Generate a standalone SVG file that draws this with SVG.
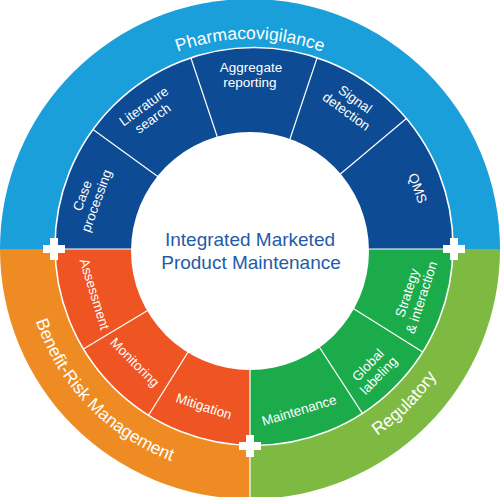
<svg xmlns="http://www.w3.org/2000/svg" width="500" height="497" viewBox="0 0 500 497">
  <style>
    text { font-family: "Liberation Sans", Arial, Helvetica, sans-serif; }
    .ring-label { font-size: 17.5px; fill: #ffffff; }
    .seg-label { font-size: 13.5px; fill: #ffffff; text-anchor: middle; }
    .title { font-size: 19px; fill: #1f5ba8; text-anchor: middle; }
    .divider { stroke: #ffffff; stroke-width: 1.2; fill: none; }
    .ring-edge { stroke: #ffffff; stroke-width: 1.6; fill: none; }
  </style>
  <defs>
    <!-- plus-shaped joint marker, centred on the origin -->
    <path id="plus" d="M-11,-4 h7 v-7 h8 v7 h7 v8 h-7 v7 h-8 v-7 h-7 Z" fill="#ffffff"/>
    <!-- baselines for the curved ring titles -->
    <path id="arc-top" d="M40,249 A210,210 0 0 1 460,249"/>
    <path id="arc-left" d="M24,249 A226,226 0 0 0 250,475"/>
    <path id="arc-right" d="M250,475 A226,226 0 0 0 476,249"/>
  </defs>

  <!-- outer ring: three domains -->
  <g id="pharmacovigilance">
    <path d="M0,249 A250,250 0 0 1 500,249 Z" fill="#1b9fdb"/>
    <text class="ring-label"><textPath href="#arc-top" startOffset="50%" text-anchor="middle">Pharmacovigilance</textPath></text>
  </g>
  <g id="benefit-risk-management">
    <path d="M250,249 L0,249 A250,250 0 0 0 250,499 Z" fill="#ee8c23"/>
    <text class="ring-label"><textPath href="#arc-left" startOffset="49%" text-anchor="middle">Benefit-Risk Management</textPath></text>
  </g>
  <g id="regulatory">
    <path d="M250,249 L250,499 A250,250 0 0 0 500,249 Z" fill="#7eba41"/>
    <text class="ring-label"><textPath href="#arc-right" startOffset="50%" text-anchor="middle">Regulatory</textPath></text>
  </g>

  <!-- inner ring: pharmacovigilance activities -->
  <g id="case-processing">
    <path d="M254,249 L55.02,249 A199,199 0 0 1 93.01,129.53 L254,246.5 Z" fill="#0d4b94"/>
    <text class="seg-label" transform="translate(89,198) rotate(-70)"><tspan x="0" y="-2.5">Case</tspan><tspan x="0" y="12.5">processing</tspan></text>
  </g>
  <g id="literature-search">
    <path d="M254,246.5 L93.01,129.53 A199,199 0 0 1 190.86,57.79 Z" fill="#0d4b94"/>
    <text class="seg-label" transform="translate(148,112) rotate(-36)"><tspan x="0" y="-2.5">Literature</tspan><tspan x="0" y="12.5">search</tspan></text>
  </g>
  <g id="aggregate-reporting">
    <path d="M254,246.5 L190.86,57.79 A199,199 0 0 1 317.14,57.79 Z" fill="#0d4b94"/>
    <text class="seg-label"><tspan x="251" y="72">Aggregate</tspan><tspan x="250" y="86.5">reporting</tspan></text>
  </g>
  <g id="signal-detection">
    <path d="M254,246.5 L317.14,57.79 A199,199 0 0 1 406.43,118.58 Z" fill="#0d4b94"/>
    <text class="seg-label" transform="translate(351,105) rotate(36)"><tspan x="0" y="-2.5">Signal</tspan><tspan x="0" y="12.5">detection</tspan></text>
  </g>
  <g id="qms">
    <path d="M254,246.5 L406.43,118.58 A199,199 0 0 1 452.98,249 L254,249 Z" fill="#0d4b94"/>
    <text class="seg-label" transform="translate(418,188) rotate(70)" y="5">QMS</text>
  </g>

  <!-- inner ring: benefit-risk activities -->
  <g id="assessment">
    <path d="M250,249 L55.02,249 A199,199 0 0 0 83.42,348.99 L254,246.5 Z" fill="#ef5423"/>
    <text class="seg-label" transform="translate(95,294) rotate(73)" y="5">Assessment</text>
  </g>
  <g id="monitoring">
    <path d="M254,246.5 L83.42,348.99 A199,199 0 0 0 148.55,415.25 Z" fill="#ef5423"/>
    <text class="seg-label" transform="translate(135,362) rotate(45)" y="5">Monitoring</text>
  </g>
  <g id="mitigation">
    <path d="M254,246.5 L148.55,415.25 A199,199 0 0 0 250,445.46 L250,249 Z" fill="#ef5423"/>
    <text class="seg-label" transform="translate(204,406) rotate(18)" y="5">Mitigation</text>
  </g>

  <!-- inner ring: regulatory activities -->
  <g id="maintenance">
    <path d="M250,249 L250,445.46 A199,199 0 0 0 362.38,413.4 L254,246.5 Z" fill="#1bab4b"/>
    <text class="seg-label" transform="translate(299,410) rotate(-17)" y="5">Maintenance</text>
  </g>
  <g id="global-labeling">
    <path d="M254,246.5 L362.38,413.4 A199,199 0 0 0 422.75,351.95 Z" fill="#1bab4b"/>
    <text class="seg-label" transform="translate(373,370) rotate(-46)"><tspan x="0" y="-2.5">Global</tspan><tspan x="0" y="12.5">labeling</tspan></text>
  </g>
  <g id="strategy-interaction">
    <path d="M254,246.5 L422.75,351.95 A199,199 0 0 0 452.98,249 L254,249 Z" fill="#1bab4b"/>
    <text class="seg-label" transform="translate(414,295) rotate(-72)"><tspan x="0" y="-2.5">Strategy</tspan><tspan x="0" y="12.5">&amp; interaction</tspan></text>
  </g>

  <!-- white separators between segments and rings -->
  <g id="connectors">
    <circle class="ring-edge" cx="254" cy="246.5" r="199"/>
    <line class="divider" x1="55" y1="249" x2="150" y2="249"/>
    <line class="divider" x1="350" y1="249" x2="453" y2="249"/>
    <line class="divider" x1="250" y1="360" x2="250" y2="497"/>
    <line class="divider" x1="93.01" y1="129.53" x2="165.01" y2="181.84"/>
    <line class="divider" x1="190.86" y1="57.79" x2="219.1" y2="142.19"/>
    <line class="divider" x1="317.14" y1="57.79" x2="288.9" y2="142.19"/>
    <line class="divider" x1="406.43" y1="118.58" x2="338.26" y2="175.79"/>
    <line class="divider" x1="83.42" y1="348.99" x2="159.71" y2="303.15"/>
    <line class="divider" x1="148.55" y1="415.25" x2="195.71" y2="339.78"/>
    <line class="divider" x1="362.38" y1="413.4" x2="313.91" y2="338.76"/>
    <line class="divider" x1="422.75" y1="351.95" x2="347.28" y2="304.79"/>
  </g>

  <!-- hub -->
  <g id="integrated-marketed-product-maintenance">
    <circle cx="250" cy="251" r="119" fill="#ffffff"/>
    <text class="title"><tspan x="250" y="245.5">Integrated Marketed</tspan><tspan x="251" y="268.5">Product Maintenance</tspan></text>
  </g>

  <!-- joints where the three domains meet -->
  <g id="joints">
    <use href="#plus" x="54" y="249"/>
    <use href="#plus" x="454" y="249"/>
    <use href="#plus" x="250" y="446"/>
  </g>
</svg>
